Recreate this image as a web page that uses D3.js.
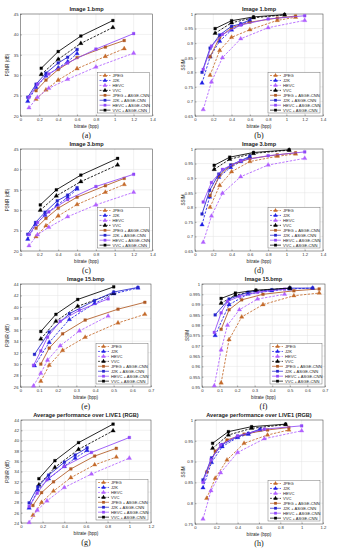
<!DOCTYPE html>
<html>
<head>
<meta charset="utf-8">
<script src="https://cdn.jsdelivr.net/npm/d3@7"></script>
<style>
body { margin: 0; background: #fff; }
svg text { font-family: "Liberation Sans", Arial, sans-serif; }
</style>
</head>
<body>
<svg id="fig" width="339" height="550"></svg>
<script>
// series order: 4 anchors, then the same 4 with ASGE-CNN post-processing
const seriesNames = ["JPEG", "J2K", "HEVC", "VVC",
    "JPEG + ASGE-CNN", "J2K + ASGE-CNN", "HEVC + ASGE-CNN", "VVC + ASGE-CNN"];
const seriesColors = ["#c46a2a", "#2020e6", "#b060ff", "#000000",
    "#b05a24", "#2424cc", "#9048f8", "#000000"];

// bitrates (bpp) per codec: JPEG, J2K, HEVC, VVC
const img1Rate = [
    [0.165, 0.27, 0.4, 0.6, 0.9, 1.1],
    [0.077, 0.165, 0.27, 0.4, 0.5, 0.6],
    [0.09, 0.18, 0.3, 0.5, 0.8, 1.2],
    [0.22, 0.4, 0.64, 0.98]
];
const img1Psnr = [
    [24.1, 26.4, 28.8, 31.6, 34.6, 36.5],
    [23.6, 27.0, 29.8, 31.8, 33.3, 35.3],
    [22.0, 24.6, 26.8, 29.0, 32.0, 35.4],
    [30.2, 33.9, 37.8, 41.7],
    [26.2, 28.8, 31.4, 34.3, 36.9, 38.5],
    [24.6, 27.8, 30.5, 33.0, 34.4, 36.3],
    [24.6, 27.8, 30.3, 33.0, 36.4, 40.2],
    [31.7, 35.8, 39.6, 43.4]
];
const img1Ssim = [
    [0.79, 0.875, 0.92, 0.946, 0.978, 0.989],
    [0.763, 0.853, 0.907, 0.945, 0.964, 0.976],
    [0.672, 0.767, 0.85, 0.915, 0.953, 0.978],
    [0.934, 0.97, 0.987, 0.997],
    [0.853, 0.92, 0.953, 0.972, 0.986, 0.993],
    [0.80, 0.883, 0.928, 0.958, 0.966, 0.98],
    [0.81, 0.89, 0.93, 0.962, 0.983, 0.994],
    [0.95, 0.977, 0.99, 0.998]
];

const img3Rate = [
    [0.165, 0.27, 0.4, 0.6, 0.9, 1.1],
    [0.077, 0.16, 0.26, 0.39, 0.5, 0.6],
    [0.09, 0.18, 0.3, 0.5, 0.8, 1.2],
    [0.21, 0.38, 0.64, 1.03]
];
const img3Psnr = [
    [23.5, 26.2, 28.6, 31.4, 34.4, 36.3],
    [22.9, 26.5, 28.8, 31.3, 33.1, 35.2],
    [21.3, 24.0, 25.8, 28.4, 31.3, 34.4],
    [30.0, 33.5, 37.0, 41.1],
    [25.6, 28.0, 30.5, 33.2, 36.0, 37.8],
    [24.1, 27.0, 29.5, 32.3, 33.7, 35.5],
    [24.0, 27.0, 29.6, 32.6, 35.8, 38.8],
    [31.3, 35.0, 38.6, 42.7]
];
const img3Ssim = [
    [0.80, 0.875, 0.922, 0.957, 0.975, 0.983],
    [0.74, 0.835, 0.903, 0.937, 0.957, 0.972],
    [0.68, 0.77, 0.848, 0.905, 0.945, 0.968],
    [0.93, 0.965, 0.985, 0.996],
    [0.84, 0.91, 0.945, 0.967, 0.98, 0.987],
    [0.777, 0.858, 0.914, 0.945, 0.96, 0.975],
    [0.818, 0.885, 0.93, 0.96, 0.977, 0.99],
    [0.944, 0.972, 0.988, 0.997]
];

const img15Rate = [
    [0.109, 0.154, 0.226, 0.347, 0.523, 0.667],
    [0.075, 0.154, 0.262, 0.397, 0.5, 0.63],
    [0.07, 0.109, 0.145, 0.213, 0.316, 0.47],
    [0.109, 0.19, 0.307, 0.5]
];
const img15Psnr = [
    [27.0, 29.8, 32.4, 34.7, 37.2, 38.7],
    [29.7, 33.8, 37.8, 40.6, 42.3, 43.3],
    [26.2, 28.4, 30.7, 33.2, 35.8, 38.4],
    [34.4, 37.5, 40.1, 42.4],
    [30.0, 32.8, 35.3, 37.7, 39.6, 40.8],
    [31.7, 35.6, 38.8, 41.1, 42.6, 43.4],
    [29.8, 32.3, 34.7, 37.5, 39.4, 41.4],
    [35.7, 38.7, 41.3, 43.5]
];
const img15Ssim = [
    [0.952, 0.973, 0.984, 0.990, 0.9943, 0.9956],
    [0.975, 0.990, 0.9951, 0.9967, 0.9976, 0.998],
    [0.9506, 0.968, 0.980, 0.9875, 0.9927, 0.995],
    [0.9907, 0.9946, 0.9967, 0.998],
    [0.978, 0.9875, 0.9923, 0.995, 0.9967, 0.9976],
    [0.985, 0.9927, 0.996, 0.9972, 0.998, 0.998],
    [0.9765, 0.986, 0.9915, 0.994, 0.996, 0.9975],
    [0.993, 0.9956, 0.997, 0.998]
];

const avgRate = [
    [0.11, 0.19, 0.3, 0.46, 0.68, 0.88],
    [0.075, 0.155, 0.255, 0.4, 0.5, 0.61],
    [0.075, 0.15, 0.24, 0.4, 0.65, 1.0],
    [0.165, 0.313, 0.531, 0.85]
];
const avgPsnr = [
    [25.5, 28.0, 30.2, 32.8, 35.3, 36.8],
    [26.9, 30.4, 32.6, 35.0, 36.6, 38.1],
    [24.1, 26.5, 28.3, 30.9, 33.5, 36.6],
    [31.4, 34.8, 38.3, 41.9],
    [27.4, 29.9, 32.0, 34.5, 37.0, 38.5],
    [27.9, 31.0, 33.3, 35.8, 37.2, 38.6],
    [27.2, 29.8, 32.4, 35.0, 37.7, 40.6],
    [32.6, 36.1, 39.6, 43.2]
];
const avgSsim = [
    [0.812, 0.86, 0.904, 0.944, 0.964, 0.976],
    [0.837, 0.898, 0.936, 0.958, 0.966, 0.976],
    [0.762, 0.83, 0.873, 0.922, 0.955, 0.974],
    [0.932, 0.964, 0.98, 0.989],
    [0.875, 0.925, 0.952, 0.966, 0.976, 0.982],
    [0.856, 0.909, 0.941, 0.96, 0.968, 0.978],
    [0.85, 0.904, 0.94, 0.962, 0.978, 0.986],
    [0.944, 0.972, 0.984, 0.99]
];

// tick labels
const rateTicks14 = [0, 0.2, 0.4, 0.6, 0.8, 1, 1.2, 1.4];
const rateTicks07 = [0, 0.1, 0.2, 0.3, 0.4, 0.5, 0.6, 0.7];
const rateTicks12 = [0, 0.2, 0.4, 0.6, 0.8, 1, 1.2];
const psnrTicks2045 = [20, 25, 30, 35, 40, 45];
const psnrTicks2644 = [26, 28, 30, 32, 34, 36, 38, 40, 42, 44];
const psnrTicks2444 = [24, 26, 28, 30, 32, 34, 36, 38, 40, 42, 44];
const ssimTicks065 = [0.65, 0.7, 0.75, 0.8, 0.85, 0.9, 0.95, 1];
const ssimTicks095 = [0.95, 0.955, 0.96, 0.965, 0.97, 0.975, 0.98, 0.985, 0.99, 0.995, 1];
const ssimTicks075 = [0.75, 0.8, 0.85, 0.9, 0.95, 1];

const panels = [
    {cap: "(a)", title: "Image 1.bmp", rate: img1Rate, vals: img1Psnr, xt: rateTicks14, yt: psnrTicks2045, yl: "PSNR (dB)", box: [20.5, 14, 152.5, 116], ylx: 8.5},
    {cap: "(b)", title: "Image 1.bmp", rate: img1Rate, vals: img1Ssim, xt: rateTicks14, yt: ssimTicks065, yl: "SSIM", box: [195, 14, 323, 116], ylx: 184.5},
    {cap: "(c)", title: "Image 3.bmp", rate: img3Rate, vals: img3Psnr, xt: rateTicks14, yt: psnrTicks2045, yl: "PSNR (dB)", box: [20.5, 149, 152.5, 251], ylx: 8.5},
    {cap: "(d)", title: "Image 3.bmp", rate: img3Rate, vals: img3Ssim, xt: rateTicks14, yt: ssimTicks065, yl: "SSIM", box: [195, 149, 323, 251], ylx: 184.5},
    {cap: "(e)", title: "Image 15.bmp", rate: img15Rate, vals: img15Psnr, xt: rateTicks07, yt: psnrTicks2644, yl: "PSNR (dB)", box: [20.5, 284, 151, 387], ylx: 8.5},
    {cap: "(f)", title: "Image 15.bmp", rate: img15Rate, vals: img15Ssim, xt: rateTicks07, yt: ssimTicks095, yl: "SSIM", box: [202, 284, 325, 387], ylx: 189},
    {cap: "(g)", title: "Average performance over LIVE1 (RGB)", rate: avgRate, vals: avgPsnr, xt: rateTicks12, yt: psnrTicks2444, yl: "PSNR (dB)", box: [21, 420, 151, 523], ylx: 8.5},
    {cap: "(h)", title: "Average performance over LIVE1 (RGB)", rate: avgRate, vals: avgSsim, xt: rateTicks12, yt: ssimTicks075, yl: "SSIM", box: [195, 420, 323, 524], ylx: 184.5}
];

const svg = d3.select("#fig");
const fmt = d3.format("~g");

function marker(i) {
    return i < 4 ? d3.symbol(d3.symbolTriangle, 8.5)() : d3.symbol(d3.symbolSquare, 7.5)();
}

function drawPanel(p) {
    const [x0, y0, x1, y1] = p.box;
    const x = d3.scaleLinear().domain(d3.extent(p.xt)).range([x0, x1]);
    const y = d3.scaleLinear().domain(d3.extent(p.yt)).range([y1, y0]);
    const g = svg.append("g");

    // grid
    g.append("g").selectAll("line").data(p.xt.slice(1, -1)).enter().append("line")
        .attr("x1", d => x(d)).attr("x2", d => x(d)).attr("y1", y0).attr("y2", y1)
        .attr("stroke", "#e3e3e3").attr("stroke-width", 0.5);
    g.append("g").selectAll("line").data(p.yt.slice(1, -1)).enter().append("line")
        .attr("y1", d => y(d)).attr("y2", d => y(d)).attr("x1", x0).attr("x2", x1)
        .attr("stroke", "#e3e3e3").attr("stroke-width", 0.5);

    // axes
    const ax = g.append("g").attr("transform", `translate(0,${y1})`)
        .call(d3.axisBottom(x).tickValues(p.xt).tickFormat(fmt).tickSize(-1.5).tickPadding(2.5));
    const ay = g.append("g").attr("transform", `translate(${x0},0)`)
        .call(d3.axisLeft(y).tickValues(p.yt).tickFormat(fmt).tickSize(-1.5).tickPadding(2));
    [ax, ay].forEach(a => {
        a.select(".domain").remove();
        a.selectAll("line").attr("stroke", "#444").attr("stroke-width", 0.4);
        a.selectAll("text").attr("font-size", 4.2).attr("fill", "#333")
            .attr("font-family", "Liberation Sans, Arial, sans-serif");
    });
    g.append("rect").attr("x", x0).attr("y", y0).attr("width", x1 - x0).attr("height", y1 - y0)
        .attr("fill", "none").attr("stroke", "#333").attr("stroke-width", 0.5);

    // labels
    g.append("text").attr("x", (x0 + x1) / 2).attr("y", y0 - 3).attr("text-anchor", "middle")
        .attr("font-size", 5.6).attr("font-weight", "bold").attr("fill", "#222").text(p.title);
    g.append("text").attr("x", (x0 + x1) / 2).attr("y", y1 + 11.5).attr("text-anchor", "middle")
        .attr("font-size", 4.6).attr("fill", "#222").text("bitrate (bpp)");
    g.append("text").attr("transform", `translate(${p.ylx},${(y0 + y1) / 2}) rotate(-90)`)
        .attr("text-anchor", "middle").attr("font-size", 4.6).attr("fill", "#222").text(p.yl);
    g.append("text").attr("x", (x0 + x1) / 2).attr("y", y1 + 21.5).attr("text-anchor", "middle")
        .attr("font-size", 8).attr("fill", "#111")
        .style("font-family", "Liberation Serif, Times New Roman, serif").text(p.cap);

    // series
    const line = d3.line().x(d => x(d[0])).y(d => y(d[1]));
    p.vals.forEach((vals, i) => {
        const pts = vals.map((v, k) => [p.rate[i % 4][k], v]);
        const s = g.append("g");
        s.append("path").attr("d", line(pts)).attr("fill", "none")
            .attr("stroke", seriesColors[i]).attr("stroke-width", 0.85)
            .attr("stroke-dasharray", i < 4 ? "2.4,1.4" : null);
        s.selectAll("path.m").data(pts).enter().append("path").attr("class", "m")
            .attr("d", marker(i))
            .attr("transform", d => `translate(${x(d[0])},${y(d[1])})`)
            .attr("fill", seriesColors[i]).attr("stroke", seriesColors[i]).attr("stroke-width", 0.3);
    });

    // legend
    const lw = 52, lh = 40.5;
    const lx = x1 - lw - 3, ly = y1 - lh - 3;
    const lg = g.append("g");
    lg.append("rect").attr("x", lx).attr("y", ly).attr("width", lw).attr("height", lh)
        .attr("fill", "#fff").attr("stroke", "#555").attr("stroke-width", 0.4);
    seriesNames.forEach((name, i) => {
        const yy = ly + 3 + i * 4.95;
        lg.append("line").attr("x1", lx + 2).attr("x2", lx + 13).attr("y1", yy).attr("y2", yy)
            .attr("stroke", seriesColors[i]).attr("stroke-width", 0.7)
            .attr("stroke-dasharray", i < 4 ? "2,1.2" : null);
        lg.append("path").attr("d", marker(i)).attr("transform", `translate(${lx + 7.5},${yy})`)
            .attr("fill", seriesColors[i]);
        lg.append("text").attr("x", lx + 15).attr("y", yy + 1.4).attr("font-size", 4.1)
            .attr("fill", "#222").text(name);
    });
}

panels.forEach(drawPanel);
</script>
</body>
</html>
